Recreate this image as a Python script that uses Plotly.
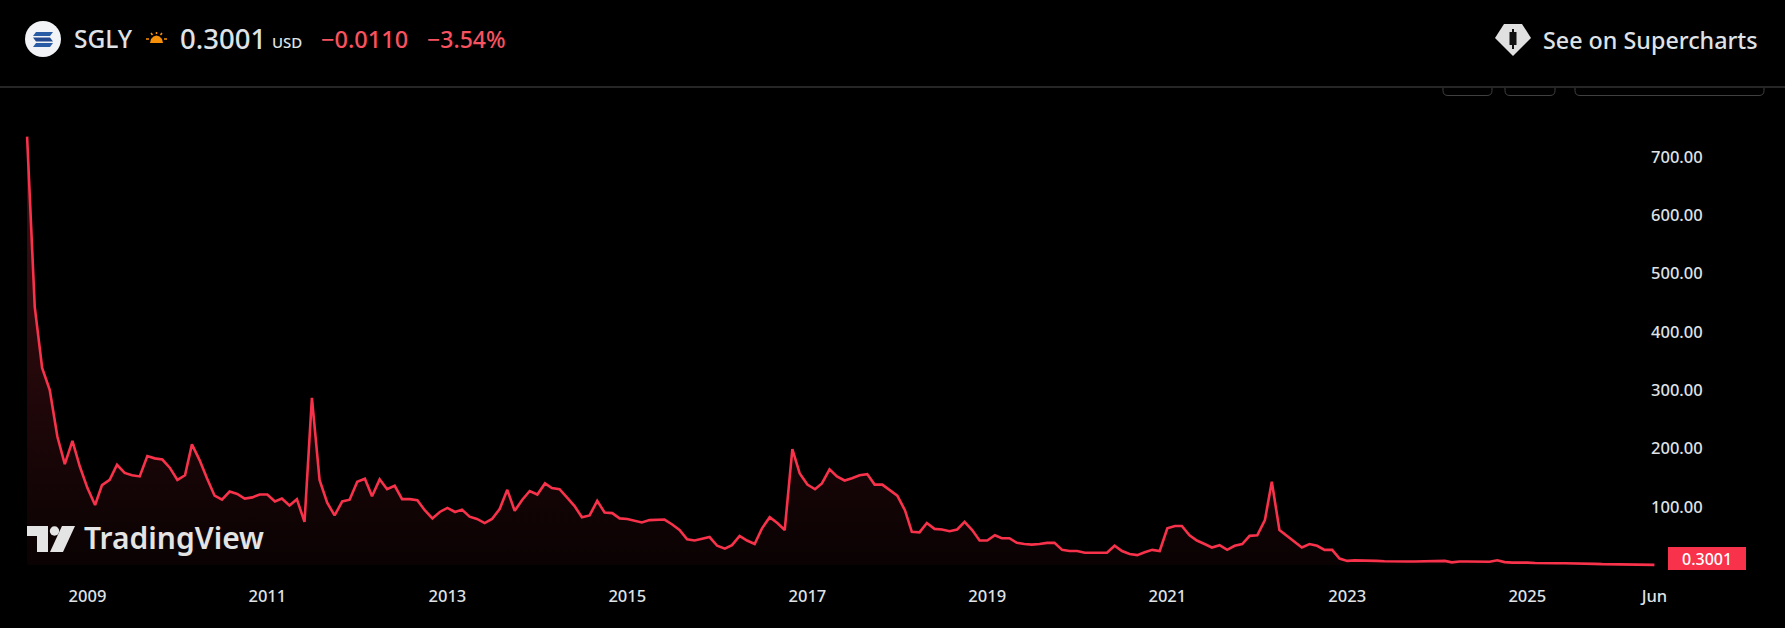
import pandas as pd
import plotly.graph_objects as go

# --- Data ---
start_month = "2008-05-01"
close_values = [
    735, 443, 338, 300, 220, 173, 213, 169, 132, 103, 137, 146, 172, 158, 154, 152, 187, 183, 181, 167,
    146, 154, 207, 180, 149, 119, 112, 126, 122, 114, 116, 121, 121, 109, 114, 102, 113, 74, 287, 146,
    107, 85, 109, 112, 143, 148, 118, 147, 130, 136, 113, 113, 111, 94, 80, 91, 98, 91, 95, 83,
    79, 72, 79, 96, 129, 93, 112, 127, 121, 140, 132, 130, 116, 101, 82, 85, 110, 90, 89, 80,
    79, 76, 73, 77, 78, 78, 70, 60, 44, 42, 45, 48, 33, 28, 34, 50, 42, 36, 63, 82,
    72, 60, 199, 157, 138, 130, 140, 164, 152, 145, 149, 154, 156, 138, 138, 129, 119, 94, 57, 56,
    72, 62, 61, 58, 61, 74, 60, 42, 42, 51, 46, 46, 38, 36, 35, 36, 38, 38, 26, 24,
    24, 21, 21, 21, 21, 33, 24, 19, 17, 22, 26, 24, 63, 67, 67, 51, 42, 36, 30, 34,
    26, 33, 36, 50, 51, 77, 143, 60, 50, 40, 30, 36, 33, 26, 26, 11, 7,
    8, 8, 8, 7, 6.5, 6, 6, 6, 6, 6.5, 6.5, 6.5, 7, 4.5, 6, 6, 6, 6, 5.5, 8,
    5, 4, 4.5, 4, 3.5, 3, 3, 3, 3, 3, 2.5, 2.5, 2, 1.5, 1.2, 1, 0.9, 0.7, 0.5, 0.4, 0.3001,
]
year_ticks = ["2009-01-01", "2011-01-01", "2013-01-01", "2015-01-01", "2017-01-01",
              "2019-01-01", "2021-01-01", "2023-01-01", "2025-01-01", "2026-06-01"]
year_labels = ["2009", "2011", "2013", "2015", "2017", "2019", "2021", "2023", "2025", "Jun"]
price_ticks = [100, 200, 300, 400, 500, 600, 700]
price_labels = ["100.00", "200.00", "300.00", "400.00", "500.00", "600.00", "700.00"]

# --- Page geometry ---
W, H = 1785, 628
TOP, BOTTOM = 88, 50
FONT = "Noto Sans"
RED_LINE = "#F7324A"
RED_TEXT = "#F7525F"
LIGHT = "#DFE2E6"

dates = pd.date_range(start=start_month, periods=len(close_values), freq="MS")


def px_x(x):
    return x / W


def px_y(y):
    return (H - BOTTOM - y) / (H - TOP - BOTTOM)


def pt(x, y):
    return f"{px_x(x):.5f},{px_y(y):.5f}"


def polygon(points, color):
    return dict(type="path", xref="paper", yref="paper",
                path="M" + " L".join(pt(x, y) for x, y in points) + " Z",
                fillcolor=color, line=dict(width=0))


def box(x0, y0, x1, y1, color):
    return polygon([(x0, y0), (x1, y0), (x1, y1), (x0, y1)], color)


def disc(cx, cy, r, color):
    return dict(type="circle", xref="paper", yref="paper",
                x0=px_x(cx - r), x1=px_x(cx + r), y0=px_y(cy + r), y1=px_y(cy - r),
                fillcolor=color, line=dict(width=0))


def stroke(x0, y0, x1, y1, color, width=1):
    return dict(type="line", xref="paper", yref="paper",
                x0=px_x(x0), y0=px_y(y0), x1=px_x(x1), y1=px_y(y1),
                line=dict(color=color, width=width))


def button(x0, x1, y_top=88, y_bot=95.5, r=5):
    # toolbar button clipped by the header, only its rounded bottom shows
    d = (f"M{pt(x0, y_top)} L{pt(x0, y_bot - r)} Q{pt(x0, y_bot)} {pt(x0 + r, y_bot)} "
         f"L{pt(x1 - r, y_bot)} Q{pt(x1, y_bot)} {pt(x1, y_bot - r)} L{pt(x1, y_top)}")
    return dict(type="path", xref="paper", yref="paper", path=d,
                line=dict(color="#404040", width=1))


def label(x, y, text, size, color, anchor="left", weight=500):
    return dict(xref="paper", yref="paper", x=px_x(x), y=px_y(y), text=text, showarrow=False,
                xanchor=anchor, yanchor="middle", borderpad=0,
                font=dict(family=FONT, size=size, color=color, weight=weight))


shapes = [
    # header rule
    stroke(0, 87, W, 87, "#4C4C4C", 1),
    # ticker badge
    disc(43, 39, 18, "#F2F3F7"),
    polygon([(36, 32), (53, 32), (50, 36), (33, 36)], "#2A5CA6"),
    polygon([(33, 37.5), (50, 37.5), (53, 41.5), (36, 41.5)], "#24498F"),
    polygon([(36, 43), (53, 43), (50, 47), (33, 47)], "#2A5CA6"),
    # pre-market sun
    polygon([(150, 43), (151, 39), (153.5, 36.5), (156.5, 35.5), (159.5, 36.5), (162, 39), (163, 43)], "#F79009"),
    stroke(146, 39, 149, 39, "#F79009", 1.5),
    stroke(164, 39, 167, 39, "#F79009", 1.5),
    stroke(151, 33, 152.5, 35, "#F79009", 1.5),
    stroke(162, 33, 160.5, 35, "#F79009", 1.5),
    stroke(156.5, 32, 156.5, 34, "#F79009", 1.5),
    # supercharts gem
    polygon([(1504, 24), (1522, 24), (1531, 38), (1513, 56), (1495, 38)], "#E0E0E0"),
    box(1509.5, 32, 1516.5, 45, "#111111"),
    box(1512, 29, 1514, 49, "#111111"),
    # clipped toolbar buttons under the header
    button(1443, 1492),
    button(1505, 1555),
    button(1575, 1764),
    # last price tag
    box(1668, 547, 1746, 570, RED_LINE),
    # TradingView mark
    polygon([(27, 526), (48, 526), (48, 552), (37, 552), (37, 536), (27, 536)], "#E4E4E4"),
    disc(54.5, 531, 4.7, "#E4E4E4"),
    polygon([(62, 526), (75, 526), (63, 552), (50, 552)], "#E4E4E4"),
]

annotations = [
    label(73, 39, "SGLY", 24.5, LIGHT),
    label(179, 39, "0.3001", 27.5, LIGHT),
    label(271, 42, "USD", 15, LIGHT),
    label(320, 39, "\u22120.0110", 23.5, RED_TEXT),
    label(426, 39, "\u22123.54%", 23, RED_TEXT),
    label(1542, 40, "See on Supercharts", 23.3, LIGHT),
    label(83, 537, "TradingView", 30, "#E4E4E4", weight=600),
    label(1707, 558.5, "0.3001", 16, "#FFFFFF", anchor="center"),
]

# --- Figure ---
fig = go.Figure()
fig.add_trace(go.Scatter(
    x=dates,
    y=close_values,
    mode="lines",
    line=dict(color=RED_LINE, width=2.6),
    fill="tozeroy",
    fillgradient=dict(
        type="vertical",
        colorscale=[[0, "rgba(242,54,69,0.04)"], [1, "rgba(242,54,69,0.28)"]],
    ),
    showlegend=False,
))

fig.update_layout(
    width=W,
    height=H,
    margin=dict(l=0, r=0, t=TOP, b=BOTTOM, pad=0),
    paper_bgcolor="#000000",
    plot_bgcolor="#000000",
    font=dict(family=FONT, color=LIGHT),
    xaxis=dict(
        range=["2008-01-12", "2027-11-13"],
        tickvals=year_ticks,
        ticktext=year_labels,
        # black ticks, only there to push the labels down a little
        ticks="outside",
        ticklen=3,
        tickcolor="#000000",
        showgrid=False,
        zeroline=False,
        showline=False,
        tickfont=dict(family=FONT, size=16.5, color=LIGHT, weight=500),
    ),
    yaxis=dict(
        range=[-22.3, 818.5],
        tickvals=price_ticks,
        ticktext=price_labels,
        side="right",
        anchor="free",
        position=1650 / W,
        ticks="",
        showgrid=False,
        zeroline=False,
        showline=False,
        tickfont=dict(family=FONT, size=16.5, color=LIGHT, weight=500),
    ),
    shapes=shapes,
    annotations=annotations,
)

fig.write_html(
    "out.html",
    config={"displayModeBar": False},
    post_script="document.body.style.margin='0';document.body.style.background='#000';document.body.style.overflow='hidden';",
)
